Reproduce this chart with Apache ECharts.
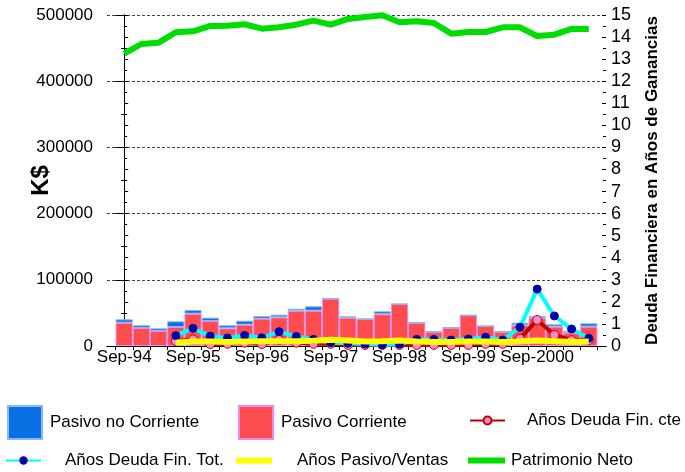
<!DOCTYPE html>
<html>
<head>
<meta charset="utf-8">
<script src="https://cdn.jsdelivr.net/npm/echarts@6/dist/echarts.min.js"></script>
<style>
  html, body { margin: 0; padding: 0; background: #fff; }
  #chart { width: 685px; height: 472px; }
</style>
</head>
<body>
<div id="chart"></div>
<script>
// trimestres, Sep-94 .. Jun-01
var quarters = ['Sep-94', 'Dic-94', 'Mar-95', 'Jun-95', 'Sep-95', 'Dic-95', 'Mar-96', 'Jun-96',
  'Sep-96', 'Dic-96', 'Mar-97', 'Jun-97', 'Sep-97', 'Dic-97', 'Mar-98', 'Jun-98',
  'Sep-98', 'Dic-98', 'Mar-99', 'Jun-99', 'Sep-99', 'Dic-99', 'Mar-00', 'Jun-00',
  'Sep-2000', 'Dic-00', 'Mar-01', 'Jun-01']

// K$
var pasivoCorriente = [35200, 27200, 22700, 28700, 48800, 37800, 26700, 32200,
  41200, 43300, 53300, 53300, 71500, 42800, 40800, 47900,
  63400, 35200, 21600, 27600, 46400, 30200, 21600, 31300,
  42300, 29200, 20100, 29200]
var pasivoNoCorriente = [5100, 4100, 4000, 8600, 5600, 5000, 4600, 6000,
  4100, 4000, 3000, 6700, 0, 2000, 0, 4500,
  0, 0, 0, 0, 0, 0, 0, 3900,
  3000, 3600, 2600, 5100]
var patrimonioNeto = [441500, 456200, 458200, 473900, 475400, 483400, 483800, 486000,
  479300, 481400, 485400, 491400, 485400, 494000, 497000, 499500,
  489000, 490500, 488000, 471800, 474300, 474300, 481400, 481400,
  468300, 470300, 478900, 478900]

// años
var deudaFinCte = [null, null, null, 0.22, 0.3, 0.09, 0.1, 0.15,
  0.09, 0.27, 0.15, 0.1, 0.1, 0.05, 0.05, 0.05,
  0.05, 0.05, 0.05, 0.05, 0.05, 0.1, 0.1, 0.33,
  1.18, 0.5, 0.26, 0.27]
var deudaFinTot = [null, null, null, 0.47, 0.8, 0.45, 0.36, 0.48,
  0.37, 0.65, 0.43, 0.3, 0.15, 0.12, 0.09, 0.06,
  0.08, 0.3, 0.3, 0.27, 0.32, 0.4, 0.27, 0.85,
  2.58, 1.36, 0.77, 0.35]
var pasivoVentas = [null, null, null, 0.15, 0.2, 0.2, 0.18, 0.2,
  0.22, 0.22, 0.22, 0.24, 0.28, 0.25, 0.2, 0.22,
  0.25, 0.2, 0.18, 0.18, 0.2, 0.2, 0.18, 0.2,
  0.25, 0.22, 0.18, 0.2]

var leftTicks = [0, 100000, 200000, 300000, 400000, 500000]
var rightTicks = [0, 1, 2, 3, 4, 5, 6, 7, 8, 9, 10, 11, 12, 13, 14, 15]

function pairs (arr) {
  var out = []
  arr.forEach(function (v, i) {
    if (v !== null) out.push([i, v])
  })
  return out
}
// value first so the stack runs on the value, not on the x position
function barPairs (arr) {
  return arr.map(function (v, i) { return [v, i] })
}

var labelIdx = []
quarters.forEach(function (q, i) { if (q.indexOf('Sep') === 0) labelIdx.push(i) })
var tickPos = []
for (var i = 0; i <= quarters.length; i++) tickPos.push(i - 0.5)

var font = "'Liberation Sans', Arial, sans-serif"
var lineLegendIcon = 'rect'

var chart = echarts.init(document.getElementById('chart'))
chart.setOption({
  animation: false,
  textStyle: { fontFamily: font },
  grid: { left: 107, right: 79, top: 15, bottom: 126, containLabel: false, outerBoundsMode: 'none' },
  legend: [
    {
      data: ['Pasivo no Corriente'], left: 7, top: 405, padding: 0,
      icon: 'rect', itemWidth: 34, itemHeight: 33,
      textStyle: { fontSize: 17, color: '#000', fontFamily: font, padding: [0, 0, 0, 3] }
    },
    {
      data: ['Pasivo Corriente'], left: 238, top: 405, padding: 0,
      icon: 'rect', itemWidth: 34, itemHeight: 33,
      textStyle: { fontSize: 17, color: '#000', fontFamily: font, padding: [0, 0, 0, 3] }
    },
    {
      data: ['Años Deuda Fin. cte'], left: 469, top: 412, padding: 0,
      itemWidth: 35, itemHeight: 10,
      textStyle: { fontSize: 17, color: '#000', fontFamily: font, padding: [0, 0, 0, 17] }
    },
    {
      data: ['Años Deuda Fin. Tot.'], left: 5, top: 452, padding: 0,
      itemWidth: 35, itemHeight: 8,
      textStyle: { fontSize: 17, color: '#000', fontFamily: font, padding: [0, 0, 0, 19] }
    },
    {
      data: [{ name: 'Años Pasivo/Ventas', icon: lineLegendIcon }], left: 236, top: 452, padding: 0,
      itemWidth: 36, itemHeight: 6,
      textStyle: { fontSize: 17, color: '#000', fontFamily: font, padding: [0, 0, 0, 20] }
    },
    {
      data: [{ name: 'Patrimonio Neto', icon: lineLegendIcon }], left: 468, top: 452, padding: 0,
      itemWidth: 37, itemHeight: 6,
      textStyle: { fontSize: 17, color: '#000', fontFamily: font, padding: [0, 0, 0, 1] }
    }
  ],
  xAxis: [
    {
      type: 'value',
      min: -1,
      max: quarters.length,
      axisLine: { lineStyle: { color: '#000', width: 1 } },
      axisTick: { show: true, length: 4, customValues: tickPos, lineStyle: { color: '#000' } },
      axisLabel: {
        customValues: labelIdx,
        margin: 3,
        fontSize: 17,
        color: '#000',
        fontFamily: font,
        formatter: function (v) { return quarters[Math.round(v)] }
      },
      splitLine: { show: false }
    },
    {
      type: 'value',
      position: 'top',
      min: -1,
      max: quarters.length,
      axisLine: { show: true, lineStyle: { color: '#000', width: 1 } },
      axisTick: { show: false },
      axisLabel: { show: false },
      splitLine: { show: false }
    }
  ],
  yAxis: [
    {
      type: 'value',
      position: 'left',
      min: 0,
      max: 500000,
      interval: 100000,
      name: 'K$',
      nameLocation: 'middle',
      nameGap: 54,
      nameMoveOverlap: false,
      nameTextStyle: { fontSize: 24, fontWeight: 'bold', color: '#000', fontFamily: font },
      axisLine: { show: true, lineStyle: { color: '#000' } },
      axisTick: { show: true, length: 9, lineStyle: { color: '#000' } },
      minorTick: { show: true, splitNumber: 2, length: 3, lineStyle: { color: '#000' } },
      axisLabel: {
        margin: 14, fontSize: 17, color: '#000', fontFamily: font,
        customValues: leftTicks,
        formatter: function (v) { return String(v) }
      },
      splitLine: { show: true, lineStyle: { color: '#444', type: [3, 2], width: 1 } }
    },
    {
      type: 'value',
      position: 'right',
      min: 0,
      max: 15,
      interval: 1,
      name: 'Deuda Financiera en Años de Ganancias',
      nameLocation: 'middle',
      nameRotate: 90,
      nameGap: 38,
      nameMoveOverlap: false,
      nameTextStyle: { fontSize: 17, fontWeight: 'bold', color: '#000', fontFamily: font },
      axisLine: { show: true, lineStyle: { color: '#000' } },
      axisTick: { show: true, length: 4, lineStyle: { color: '#000' } },
      minorTick: { show: true, splitNumber: 2, length: 3, lineStyle: { color: '#000' } },
      axisLabel: {
        margin: 5, fontSize: 18, color: '#000', fontFamily: font, customValues: rightTicks,
        formatter: function (v) { return String(v) }
      },
      splitLine: { show: false }
    },
    {
      // same scale, inner half of the crossing ticks
      type: 'value',
      position: 'right',
      min: 0,
      max: 15,
      interval: 1,
      axisLine: { show: false },
      axisTick: { show: true, inside: true, length: 4, lineStyle: { color: '#000' } },
      minorTick: { show: true, splitNumber: 2, length: 3, lineStyle: { color: '#000' } },
      axisLabel: { show: false },
      splitLine: { show: false }
    }
  ],
  series: [
    {
      name: 'Pasivo Corriente',
      type: 'bar',
      stack: 'pasivo',
      barWidth: 17.2,
      encode: { x: 1, y: 0 },
      data: barPairs(pasivoCorriente),
      itemStyle: { color: '#ff4d4f', borderColor: '#ea8bf0', borderWidth: 1 },
      z: 2
    },
    {
      name: 'Pasivo no Corriente',
      type: 'bar',
      stack: 'pasivo',
      barWidth: 17.2,
      encode: { x: 1, y: 0 },
      data: barPairs(pasivoNoCorriente),
      itemStyle: { color: '#0a70e4', borderColor: '#8ab8f2', borderWidth: 1 },
      z: 2
    },
    {
      name: 'Años Deuda Fin. cte',
      type: 'line',
      yAxisIndex: 1,
      data: pairs(deudaFinCte),
      symbol: 'circle',
      symbolSize: 9,
      lineStyle: { color: '#c40000', width: 4 },
      itemStyle: { color: '#ff8cc8', borderColor: '#c40000', borderWidth: 1 },
      z: 3
    },
    {
      name: 'Años Deuda Fin. Tot.',
      type: 'line',
      yAxisIndex: 1,
      data: pairs(deudaFinTot),
      symbol: 'circle',
      symbolSize: 8,
      lineStyle: { color: '#00ffff', width: 4 },
      itemStyle: { color: '#0000aa', borderColor: '#0000aa', borderWidth: 1 },
      z: 4
    },
    {
      name: 'Años Pasivo/Ventas',
      type: 'line',
      yAxisIndex: 1,
      data: pairs(pasivoVentas),
      showSymbol: false,
      symbol: 'none',
      lineStyle: { color: '#ffff00', width: 6 },
      itemStyle: { color: '#ffff00' },
      z: 5
    },
    {
      name: 'Patrimonio Neto',
      type: 'line',
      yAxisIndex: 0,
      data: pairs(patrimonioNeto),
      showSymbol: false,
      symbol: 'none',
      lineStyle: { color: '#00dd00', width: 6 },
      itemStyle: { color: '#00dd00' },
      z: 5
    }
  ]
})
</script>
</body>
</html>
